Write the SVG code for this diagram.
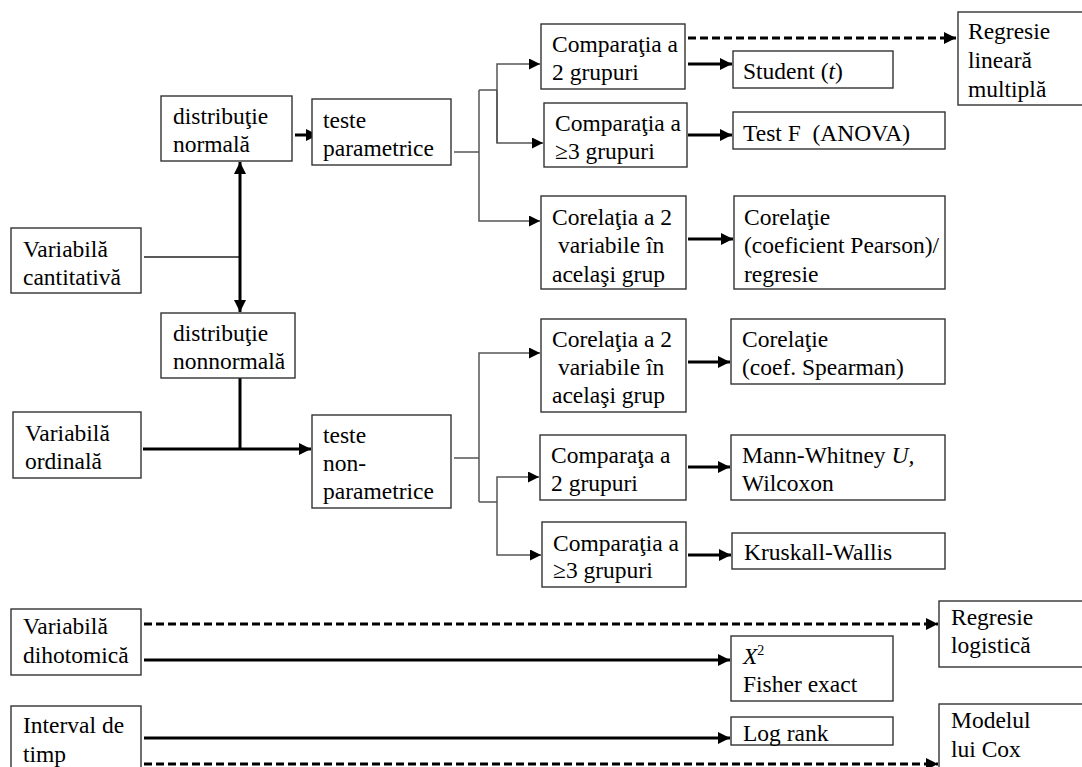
<svg xmlns="http://www.w3.org/2000/svg" width="1082" height="767" viewBox="0 0 1082 767">
<style>
.b{fill:#fff;stroke:#333;stroke-width:1.4}
text{font-family:"Liberation Serif","Times New Roman",serif;font-size:23.5px;fill:#000;white-space:pre}
.k{fill:none;stroke:#000;stroke-width:3}
.d{fill:none;stroke:#000;stroke-width:3;stroke-dasharray:8 4}
.t{fill:none;stroke:#555;stroke-width:1.5}
.tk{fill:none;stroke:#222;stroke-width:1.5}
</style>
<defs>
<marker id="a" markerUnits="userSpaceOnUse" markerWidth="13" markerHeight="13" refX="12" refY="6" orient="auto-start-reverse"><path d="M0,0 L12,6 L0,12 z" fill="#000"/></marker>
<marker id="s" markerUnits="userSpaceOnUse" markerWidth="12" markerHeight="12" refX="11" refY="5.5" orient="auto"><path d="M0,0 L11,5.5 L0,11 z" fill="#000"/></marker>
</defs>
<rect width="1082" height="767" fill="#fff"/>
<g id="connectors">
<line class="k" x1="295" y1="135" x2="318" y2="135" marker-end="url(#a)"/>
<line class="tk" x1="144" y1="257" x2="240" y2="257"/>
<line class="k" x1="240" y1="162" x2="240" y2="312" marker-start="url(#a)" marker-end="url(#a)"/>
<line class="k" x1="240" y1="378" x2="240" y2="449"/>
<line class="k" x1="143" y1="449" x2="311" y2="449" marker-end="url(#a)"/>
<polyline class="t" points="454,152 479,152"/>
<polyline class="t" points="479,90 479,221 540,221" marker-end="url(#s)"/>
<polyline class="t" points="479,90 497,90"/>
<polyline class="t" points="497,143 497,64 540,64" marker-end="url(#s)"/>
<polyline class="t" points="497,90 497,143 543,143" marker-end="url(#s)"/>
<polyline class="t" points="454,458 479,458"/>
<polyline class="t" points="479,502 479,353 540,353" marker-end="url(#s)"/>
<polyline class="t" points="479,502 497,502"/>
<polyline class="t" points="497,502 497,477 539,477" marker-end="url(#s)"/>
<polyline class="t" points="497,502 497,555 541,555" marker-end="url(#s)"/>
<line class="d" x1="688" y1="38" x2="956" y2="38" marker-end="url(#a)"/>
<line class="k" x1="688" y1="64" x2="732" y2="64" marker-end="url(#a)"/>
<line class="k" x1="688" y1="135" x2="732" y2="135" marker-end="url(#a)"/>
<line class="k" x1="688" y1="239" x2="733" y2="239" marker-end="url(#a)"/>
<line class="k" x1="688" y1="362" x2="730" y2="362" marker-end="url(#a)"/>
<line class="k" x1="688" y1="467" x2="730" y2="467" marker-end="url(#a)"/>
<line class="k" x1="688" y1="555" x2="731" y2="555" marker-end="url(#a)"/>
<line class="d" x1="144" y1="624" x2="938" y2="624" marker-end="url(#a)"/>
<line class="k" x1="144" y1="660" x2="730" y2="660" marker-end="url(#a)"/>
<line class="k" x1="144" y1="738" x2="730" y2="738" marker-end="url(#a)"/>
<line class="d" x1="144" y1="764" x2="938" y2="764" marker-end="url(#a)"/>
</g>
<g id="n-normala"><rect class="b" x="161" y="96" width="131" height="65"/><text x="173" y="124">distribuţie</text><text x="173" y="152">normală</text></g>
<g id="n-param"><rect class="b" x="312" y="99" width="139" height="66"/><text x="323" y="128">teste</text><text x="323" y="156">parametrice</text></g>
<g id="n-cant"><rect class="b" x="11" y="228" width="130" height="65"/><text x="23" y="257">Variabilă</text><text x="23" y="285">cantitativă</text></g>
<g id="n-nonnormala"><rect class="b" x="161" y="313" width="134" height="65"/><text x="173" y="341">distribuţie</text><text x="173" y="369">nonnormală</text></g>
<g id="n-ordinala"><rect class="b" x="13" y="412" width="128" height="66"/><text x="25" y="441">Variabilă</text><text x="25" y="469">ordinală</text></g>
<g id="n-nonparam"><rect class="b" x="312" y="415" width="139" height="93"/><text x="323" y="443">teste</text><text x="323" y="471">non-</text><text x="323" y="499">parametrice</text></g>
<g id="n-comp2"><rect class="b" x="541" y="24" width="144" height="65"/><text x="552" y="52">Comparaţia a</text><text x="552" y="80">2 grupuri</text></g>
<g id="n-student"><rect class="b" x="733" y="51" width="160" height="37"/><text x="743" y="79">Student (<tspan font-style="italic">t</tspan>)</text></g>
<g id="n-regmult"><rect class="b" x="958" y="12" width="134" height="93"/><text x="968" y="39">Regresie</text><text x="968" y="68">lineară</text><text x="968" y="97">multiplă</text></g>
<g id="n-comp3"><rect class="b" x="544" y="103" width="143" height="64"/><text x="555" y="131">Comparaţia a</text><text x="555" y="159">≥3 grupuri</text></g>
<g id="n-anova"><rect class="b" x="733" y="112" width="212" height="37"/><text x="743" y="141">Test F  (ANOVA)</text></g>
<g id="n-corel"><rect class="b" x="541" y="196" width="145" height="93"/><text x="552" y="225">Corelaţia a 2</text><text x="552" y="253"> variabile în</text><text x="552" y="282">acelaşi grup</text></g>
<g id="n-pearson"><rect class="b" x="734" y="196" width="211" height="93"/><text x="744" y="225">Corelaţie</text><text x="744" y="253">(coeficient Pearson)/</text><text x="744" y="282">regresie</text></g>
<g id="n-corel2"><rect class="b" x="541" y="319" width="145" height="93"/><text x="552" y="347">Corelaţia a 2</text><text x="552" y="375"> variabile în</text><text x="552" y="403">acelaşi grup</text></g>
<g id="n-spearman"><rect class="b" x="731" y="319" width="214" height="65"/><text x="742" y="347">Corelaţie</text><text x="742" y="375">(coef. Spearman)</text></g>
<g id="n-comp2np"><rect class="b" x="540" y="435" width="146" height="65"/><text x="551" y="463">Comparaţa a</text><text x="551" y="491">2 grupuri</text></g>
<g id="n-mann"><rect class="b" x="731" y="435" width="214" height="65"/><text x="742" y="463">Mann-Whitney <tspan font-style="italic">U,</tspan></text><text x="742" y="491">Wilcoxon</text></g>
<g id="n-comp3np"><rect class="b" x="542" y="522" width="144" height="65"/><text x="553" y="551">Comparaţia a</text><text x="553" y="578">≥3 grupuri</text></g>
<g id="n-kruskal"><rect class="b" x="732" y="533" width="213" height="36"/><text x="744" y="560">Kruskall-Wallis</text></g>
<g id="n-dihot"><rect class="b" x="11" y="609" width="130" height="66"/><text x="23" y="634">Variabilă</text><text x="23" y="663">dihotomică</text></g>
<g id="n-reglog"><rect class="b" x="939" y="601" width="153" height="66"/><text x="951" y="625">Regresie</text><text x="951" y="653">logistică</text></g>
<g id="n-chi"><rect class="b" x="731" y="636" width="162" height="65"/><text x="743" y="664"><tspan font-style="italic">X</tspan><tspan font-size="14" dy="-9">2</tspan></text><text x="743" y="692">Fisher exact</text></g>
<g id="n-interval"><rect class="b" x="11" y="706" width="130" height="80"/><text x="23" y="733">Interval de</text><text x="23" y="762">timp</text></g>
<g id="n-logrank"><rect class="b" x="731" y="717" width="162" height="28"/><text x="743" y="741">Log rank</text></g>
<g id="n-cox"><rect class="b" x="939" y="704" width="153" height="80"/><text x="951" y="728">Modelul</text><text x="951" y="757">lui Cox</text></g>
</svg>
